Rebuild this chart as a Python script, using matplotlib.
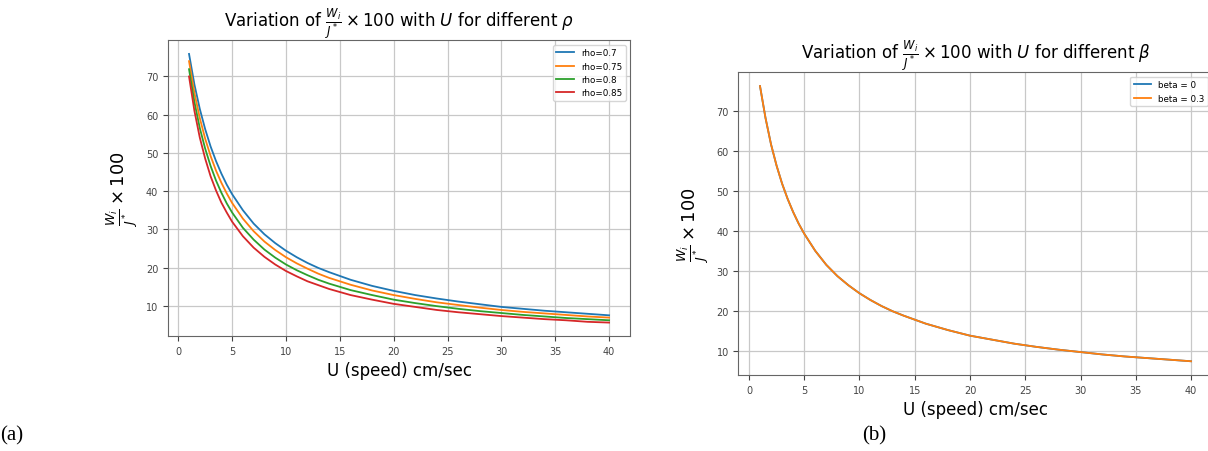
import matplotlib.pyplot as plt

# speed values (cm/sec)
U = [1, 1.5, 2, 2.5, 3, 3.5, 4, 4.5, 5, 6, 7, 8, 9, 10, 11, 12, 13, 14, 16,
     18, 20, 22, 24, 26, 28, 30, 32, 34, 36, 38, 40]

# Wi/J* x 100 for different rho
rho_07 = [75.9, 67.9, 61.5, 56.2, 51.7, 47.9, 44.6, 41.7, 39.2, 35.0, 31.5,
          28.7, 26.4, 24.4, 22.7, 21.2, 19.9, 18.8, 16.8, 15.2, 13.9, 12.8,
          11.9, 11.1, 10.4, 9.7, 9.2, 8.7, 8.3, 7.9, 7.5]
rho_075 = [74.0, 65.7, 59.1, 53.7, 49.2, 45.4, 42.2, 39.4, 36.9, 32.8, 29.5,
           26.8, 24.6, 22.7, 21.1, 19.7, 18.4, 17.3, 15.5, 14.0, 12.8, 11.8,
           10.9, 10.2, 9.5, 8.9, 8.4, 8.0, 7.6, 7.2, 6.9]
rho_08 = [71.9, 63.3, 56.5, 51.1, 46.6, 42.8, 39.6, 36.8, 34.4, 30.4, 27.3,
          24.7, 22.6, 20.8, 19.3, 18.0, 16.8, 15.8, 14.1, 12.8, 11.6, 10.7,
          9.9, 9.2, 8.6, 8.1, 7.6, 7.2, 6.8, 6.5, 6.2]
rho_085 = [70.0, 61.0, 54.0, 48.5, 43.9, 40.2, 37.0, 34.4, 32.0, 28.2, 25.2,
           22.8, 20.8, 19.1, 17.7, 16.4, 15.4, 14.4, 12.8, 11.6, 10.5, 9.7,
           8.9, 8.3, 7.8, 7.3, 6.9, 6.5, 6.2, 5.8, 5.6]
rho_labels = ['rho=0.7', 'rho=0.75', 'rho=0.8', 'rho=0.85']

# Wi/J* x 100 for different beta
beta_0 = [76.3, 68.3, 61.7, 56.4, 51.9, 48.1, 44.8, 41.9, 39.4, 35.1, 31.6,
          28.8, 26.5, 24.5, 22.8, 21.3, 20.0, 18.9, 16.9, 15.3, 13.9, 12.9,
          11.9, 11.1, 10.4, 9.8, 9.2, 8.7, 8.3, 7.9, 7.5]
beta_03 = [76.3, 68.3, 61.7, 56.4, 51.9, 48.1, 44.8, 41.9, 39.4, 35.1, 31.6,
           28.8, 26.5, 24.5, 22.8, 21.3, 20.0, 18.9, 16.9, 15.3, 13.9, 12.9,
           11.9, 11.1, 10.4, 9.8, 9.2, 8.7, 8.3, 7.9, 7.5]
beta_labels = ['beta = 0', 'beta = 0.3']

ylab = r'$\frac{W_i}{J^*} \times 100$'

fig = plt.figure(figsize=(12.08, 4.52), dpi=100)

# (a) rho
ax1 = fig.add_axes([0.1391, 0.2544, 0.3825, 0.6538])
for vals, lab in zip([rho_07, rho_075, rho_08, rho_085], rho_labels):
    ax1.plot(U, vals, label=lab, linewidth=1.3)
ax1.set_title(r'Variation of $\frac{W_i}{J^*} \times 100$ with $U$ for different $\rho$',
              fontsize=12)
ax1.set_xlabel('U (speed) cm/sec', fontsize=12)
ax1.set_ylabel(ylab, fontsize=13)
ax1.legend(fontsize=6.3)

# (b) beta
ax2 = fig.add_axes([0.6113, 0.1681, 0.3925, 0.6697])
for vals, lab in zip([beta_0, beta_03], beta_labels):
    ax2.plot(U, vals, label=lab, linewidth=1.3)
ax2.set_title(r'Variation of $\frac{W_i}{J^*} \times 100$ with $U$ for different $\beta$',
              fontsize=12)
ax2.set_xlabel('U (speed) cm/sec', fontsize=12)
ax2.set_ylabel(ylab, fontsize=13)
ax2.legend(fontsize=6.3, loc='upper right')

for ax in (ax1, ax2):
    ax.grid(True, color='#c8c8c8', linewidth=0.9)
    ax.tick_params(labelsize=7, colors='#444444')
    for s in ax.spines.values():
        s.set_color('#666666')

fig.text(0.0, 1 - 436 / 452, '(a)', family='Liberation Serif', fontsize=15,
         va='center', ha='left')
fig.text(862 / 1208, 1 - 436 / 452, '(b)', family='Liberation Serif', fontsize=15,
         va='center', ha='left')

fig.savefig('out.png', dpi=100)
